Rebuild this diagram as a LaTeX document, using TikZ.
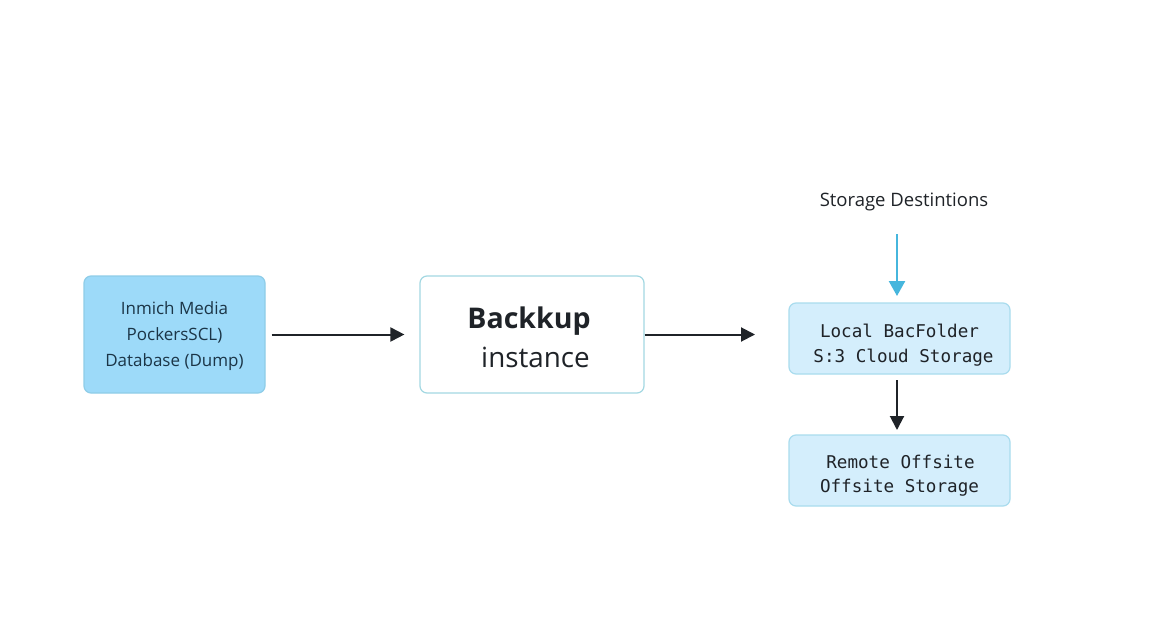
\documentclass[tikz,border=0pt]{standalone}
\usepackage{fontspec}
\usetikzlibrary{arrows.meta}
\setmainfont{Open Sans}
\newfontfamily\boxmono{DejaVu Sans Mono}
\definecolor{srcfill}{HTML}{9DDAF9}
\definecolor{srcline}{HTML}{8FCDE8}
\definecolor{midline}{HTML}{A3D8E2}
\definecolor{stfill}{HTML}{D4EEFC}
\definecolor{stline}{HTML}{A9DCEE}
\definecolor{ink}{HTML}{1F2328}
\definecolor{srcink}{HTML}{1B3547}
\definecolor{cyanarrow}{HTML}{46B6DD}
\tikzset{
  x=1pt,y=-1pt,
  basebox/.style={draw,rounded corners=7pt,line width=1.2pt,inner sep=0pt,align=center},
  srcbox/.style={basebox,fill=srcfill,draw=srcline,minimum width=181pt,minimum height=117pt,text=srcink,font=\fontsize{17}{26}\selectfont},
  midbox/.style={basebox,fill=white,draw=midline,minimum width=224pt,minimum height=117pt,text=ink},
  stbox/.style={basebox,fill=stfill,draw=stline,minimum width=221pt,minimum height=71pt,text=ink,font=\boxmono\fontsize{17.6}{24.5}\selectfont},
  darrow/.style={draw=ink,line width=2pt,-{Triangle[length=14pt,width=14pt]}},
  carrow/.style={draw=cyanarrow,line width=2.4pt,-{Triangle[length=15pt,width=16pt]}},
  titlelabel/.style={text=ink,font=\fontsize{18.5}{22}\selectfont,inner sep=0pt}
}
\begin{document}
\begin{tikzpicture}
\useasboundingbox (0,0) rectangle (1152,640);
\fill[white] (0,0) rectangle (1152,640);
\node[srcbox] (src) at (174.5,334.5) {\rule{0pt}{17pt}Inmich Media\\PockersSCL)\\Database (Dump)};
\node[midbox] (mid) at (532,334.5) {\rule{0pt}{28pt}\fontsize{28.5}{40}\selectfont\bfseries Backkup\hspace*{6pt}\\[11pt]\hspace*{7pt}\fontsize{27.8}{40}\selectfont instance};
\node[stbox] (local) at (899.5,338.5) {\rule{0pt}{27pt}Local BacFolder\\\hspace*{8pt}S:3 Cloud Storage};
\node[stbox] (remote) at (899.5,470.5) {\rule{0pt}{24pt}\hspace*{2pt}Remote Offsite\\Offsite Storage};
\node[titlelabel] (title) at (904,202) {Storage Destintions};
\coordinate (midout) at (755,334.5);
\coordinate (topstart) at (897,234);
\coordinate (topend) at (897,296);
\coordinate (downstart) at (897,380);
\coordinate (downend) at (897,430);
\draw[darrow,shorten <=6pt,shorten >=15pt] (src.east) -- (mid.west);
\draw[darrow] (mid.east) -- (midout);
\draw[carrow] (topstart) -- (topend);
\draw[darrow] (downstart) -- (downend);
\end{tikzpicture}
\end{document}
